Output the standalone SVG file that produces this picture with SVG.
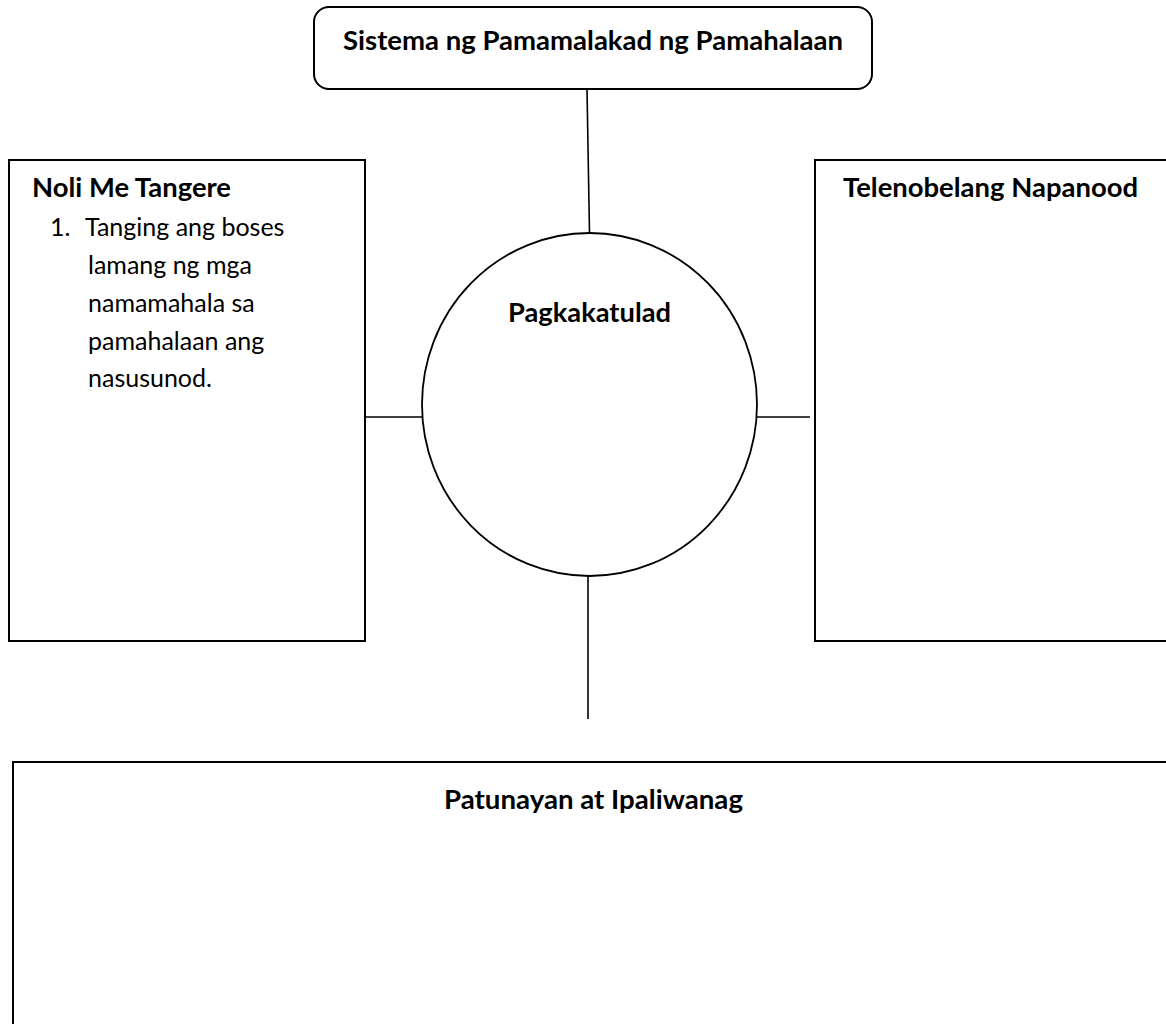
<svg xmlns="http://www.w3.org/2000/svg" width="1166" height="1024" viewBox="0 0 1166 1024">
  <style>
    .box { fill: #ffffff; stroke: #000000; stroke-width: 2; }
    .conn { stroke: #000000; stroke-width: 1.6; fill: none; }
    .hdr { font-family: Lato, "Liberation Sans", sans-serif; font-weight: bold; font-size: 26px; fill: #000000; }
    .body { font-family: Lato, "Liberation Sans", sans-serif; font-size: 25px; fill: #000000; }
  </style>
  <rect width="1166" height="1024" fill="#ffffff"/>
  <g id="connectors">
    <line class="conn" x1="587" y1="89" x2="589.5" y2="233"/>
    <line class="conn" x1="365" y1="417" x2="422" y2="417"/>
    <line class="conn" x1="757" y1="417" x2="810" y2="417"/>
    <line class="conn" x1="588" y1="576" x2="588" y2="719"/>
  </g>
  <g id="node-sistema">
    <rect class="box" x="314" y="7" width="558" height="82" rx="15" ry="15"/>
    <text class="hdr" x="343" y="50" textLength="500" lengthAdjust="spacingAndGlyphs">Sistema ng Pamamalakad ng Pamahalaan</text>
  </g>
  <g id="node-noli">
    <rect class="box" x="9" y="160" width="356" height="481"/>
    <text class="hdr" x="32" y="197" textLength="199" lengthAdjust="spacingAndGlyphs">Noli Me Tangere</text>
    <text class="body" x="50" y="236">1.</text>
    <text class="body" x="85" y="236">Tanging ang boses</text>
    <text class="body" x="88" y="274">lamang ng mga</text>
    <text class="body" x="88" y="312">namamahala sa</text>
    <text class="body" x="88" y="350">pamahalaan ang</text>
    <text class="body" x="88" y="387">nasusunod.</text>
  </g>
  <g id="node-pagkakatulad">
    <ellipse fill="#ffffff" stroke="#000000" stroke-width="1.8" cx="589.5" cy="404.5" rx="167.5" ry="171.5"/>
    <text class="hdr" x="508" y="322" textLength="163" lengthAdjust="spacingAndGlyphs">Pagkakatulad</text>
  </g>
  <g id="node-telenobela">
    <rect class="box" x="815" y="160" width="400" height="481"/>
    <text class="hdr" x="843" y="197" textLength="295" lengthAdjust="spacingAndGlyphs">Telenobelang Napanood</text>
  </g>
  <g id="node-patunayan">
    <rect class="box" x="13" y="762" width="1200" height="300"/>
    <text class="hdr" x="444" y="809" textLength="299" lengthAdjust="spacingAndGlyphs">Patunayan at Ipaliwanag</text>
  </g>
</svg>
